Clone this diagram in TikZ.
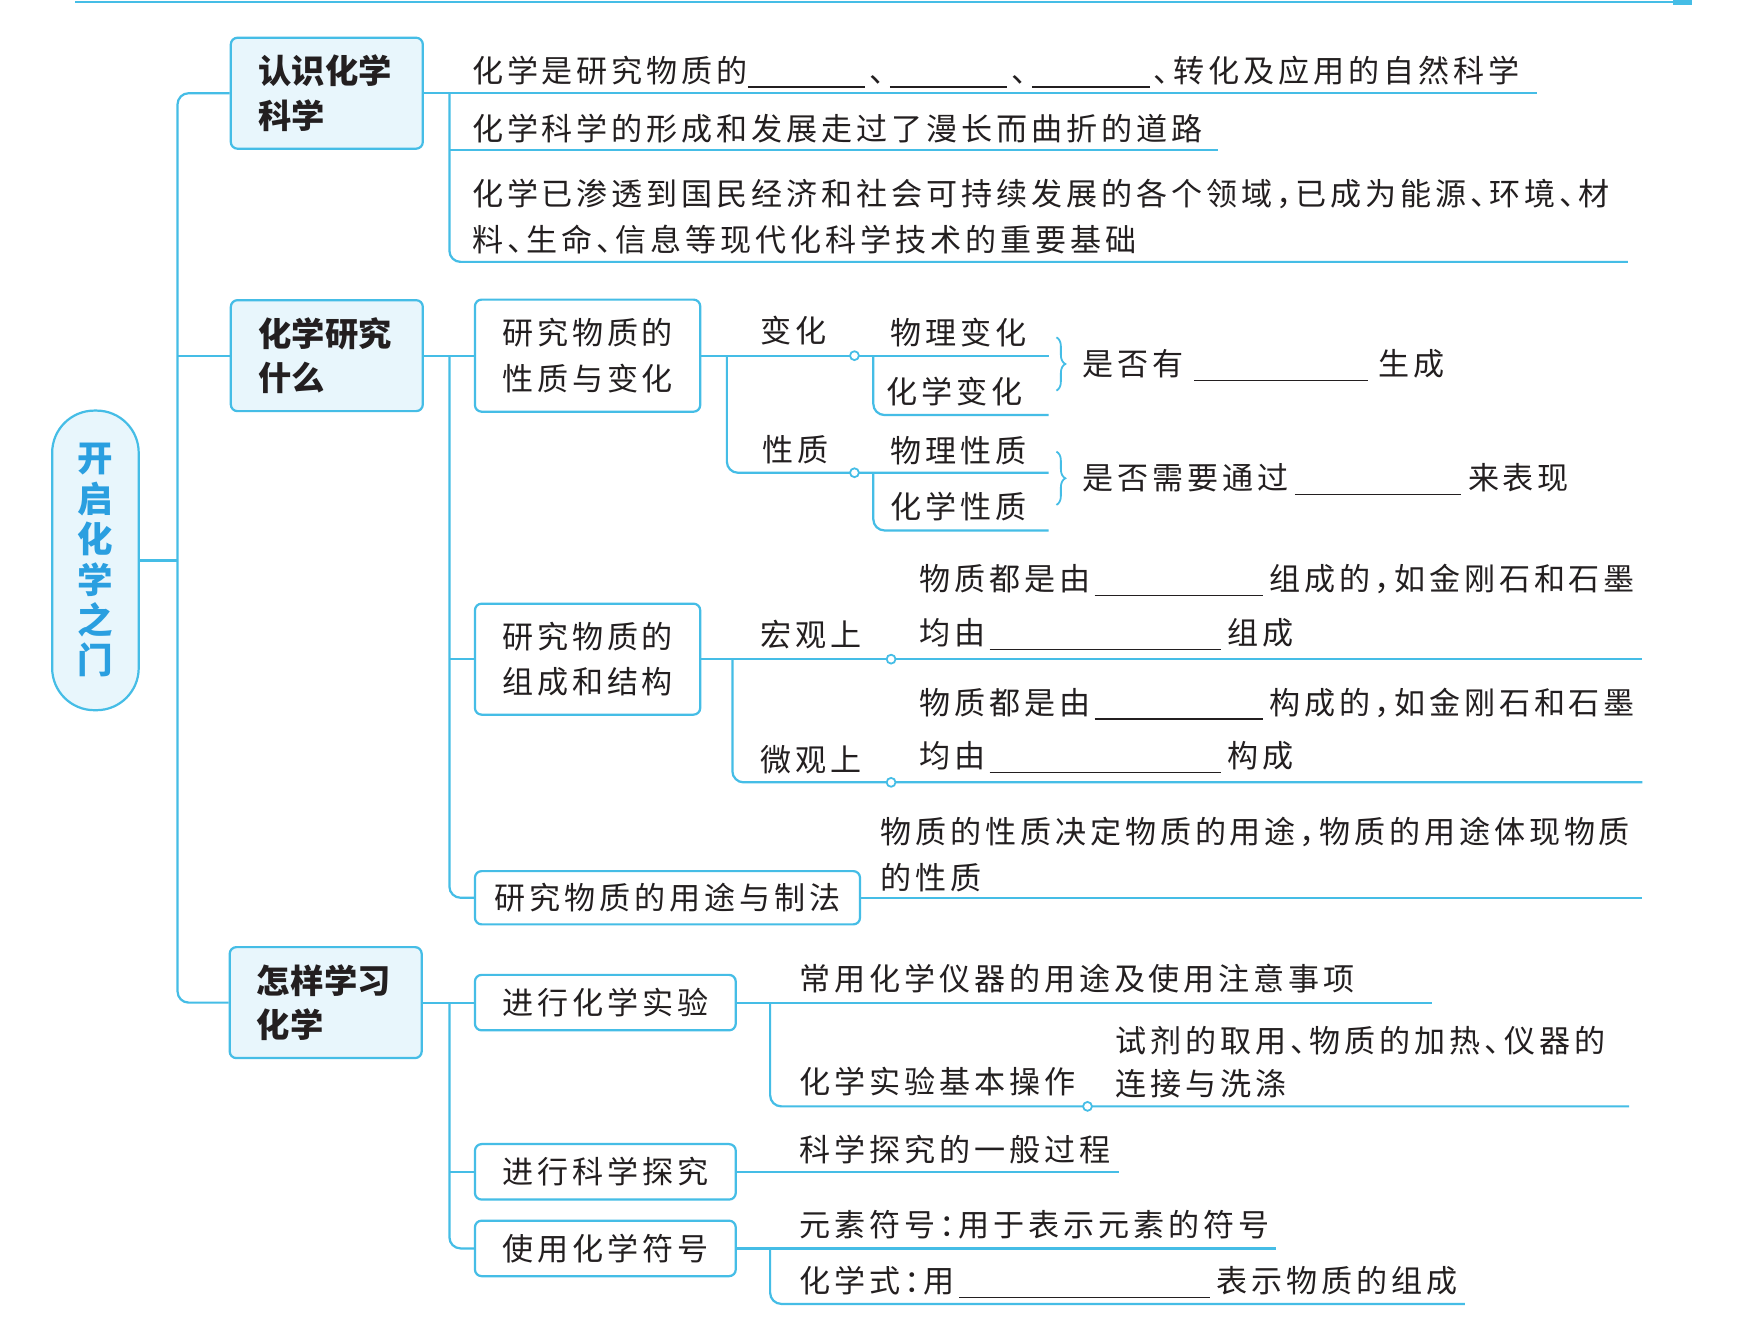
\documentclass[tikz,border=0pt]{standalone}
\usepackage{fontspec}
\setmainfont{Noto Sans CJK SC}[LetterSpace=12.5,RawFeature=+halt]
\newfontfamily\hdfont{Noto Sans CJK SC}[LetterSpace=1,RawFeature=+halt]
\usetikzlibrary{decorations.pathreplacing}
\definecolor{lb}{HTML}{45BDE6}
\definecolor{lf}{HTML}{E8F6FC}
\definecolor{rootblue}{HTML}{2A9FE0}
\definecolor{ink}{HTML}{231F20}
\newcommand\bdfont{\fontsize{14}{20.5}\selectfont}
\newcommand\blk[1]{\rule[-2.5pt]{#1}{0.55pt}}
\newcommand\dun{\hspace{2pt}、\hspace{2pt}}
\tikzset{
  conn/.style={draw=lb,line width=1pt},
  elbow/.style={draw=lb,line width=1pt,rounded corners=5pt},
  lvA/.style={draw=lb,fill=lf,rounded corners=3pt,line width=1pt,minimum width=86.5pt,minimum height=50pt,inner sep=0pt,font=\hdfont\bfseries\fontsize{15}{20}\selectfont,align=left,text width=62pt,text=ink},
  lvB/.style={draw=lb,fill=white,rounded corners=3pt,line width=1pt,inner sep=0pt,font=\bdfont,align=center,text=ink},
  rootbox/.style={draw=lb,fill=lf,rounded corners=19pt,line width=1pt,minimum width=39pt,minimum height=135pt,inner sep=0pt,font=\hdfont\bfseries\fontsize{16}{18.2}\selectfont,text=rootblue,align=center},
  txt/.style={anchor=base west,inner sep=0pt,font=\bdfont,text=ink},
  lbl/.style={anchor=base,inner sep=0pt,font=\bdfont,text=ink},
  dot/.style={circle,draw=lb,fill=white,line width=0.8pt,minimum size=4pt,inner sep=0pt},
  brc/.style={draw=lb,line width=0.8pt,decorate,decoration={brace,amplitude=4pt}}
}
\begin{document}
\begin{tikzpicture}[x=0.5pt,y=-0.5pt]
\useasboundingbox (0,0) rectangle (1568,1197);
\fill[white] (0,0) rectangle (1568,1197);
% top rule
\coordinate (tl) at (68,2);
\coordinate (tr) at (1525,2);
\draw[conn] (tl) -- (tr);
\draw[draw=lb,line width=2.5pt] (1508,2) -- (tr);

% root and level-1 boxes
\node[rootbox] (root) at (86,505) {开\\启\\化\\学\\之\\门};
\node[lvA] (b1) at (294.5,84) {认识化学\\科学};
\node[lvA] (b2) at (294.5,320.5) {化学研究\\什么};
\node[lvA] (b3) at (293.5,903.5) {怎样学习\\化学};

\coordinate (sp) at (160,505);
\draw[conn] (root.east) -- (sp);
\draw[elbow] (b1.west) -- (b1.west -| sp) -- (b3.west -| sp) -- (b3.west);
\draw[conn] (b2.west -| sp) -- (b2.west);

% ---- branch 1
\coordinate (e11) at (1385,84);
\coordinate (e12) at (1098,135);
\coordinate (e13) at (1467,236);
\draw[conn] (b1.east) -- (e11);
\draw[elbow] (405,84) -- (405,236) -- (e13);
\draw[conn] (405,135) -- (e12);
\node[txt] (t11) at (425,74) {化学是研究物质的\blk{53pt}\dun\blk{53pt}\dun\blk{53pt}\dun 转化及应用的自然科学};
\node[txt] (t12) at (425,126.5) {化学科学的形成和发展走过了漫长而曲折的道路};
\node[txt] (t13) at (425,185.5) {化学已渗透到国民经济和社会可持续发展的各个领域，已成为能源、环境、材};
\node[txt] (t14) at (425,226.5) {料、生命、信息等现代化科学技术的重要基础};

% ---- branch 2
\node[lvB,minimum width=101.5pt,minimum height=50.5pt] (b21) at (529.5,320.5) {研究物质的\\性质与变化};
\node[lvB,minimum width=101.5pt,minimum height=50pt] (b22) at (529.5,594) {研究物质的\\组成和结构};
\node[lvB,minimum width=173.5pt,minimum height=24pt] (b23) at (601.5,809) {研究物质的用途与制法};
\draw[conn] (b2.east) -- (b21.west);
\draw[elbow] (405,320.5) -- (405,809) -- (b23.west);
\draw[conn] (405,594) -- (b22.west);

% properties & changes
\coordinate (e21) at (945,320.5);
\coordinate (e22) at (945,374);
\coordinate (e23) at (945,426);
\coordinate (e24) at (945,478);
\draw[conn] (b21.east) -- (e21);
\draw[elbow] (655,320.5) -- (655,426) -- (e23);
\draw[elbow] (787,320.5) -- (787,374) -- (e22);
\draw[elbow] (787,426) -- (787,478) -- (e24);
\node[dot] (d1) at (770,320.5) {};
\node[dot] (d2) at (770,426) {};
\node[lbl] (l1) at (715,308.5) {变化};
\node[lbl] (l2) at (717,415.5) {性质};
\node[lbl] (l3) at (864,310.5) {物理变化};
\node[lbl] (l4) at (860,363.5) {化学变化};
\node[lbl] (l5) at (864,416.5) {物理性质};
\node[lbl] (l6) at (864,467.5) {化学性质};
\draw[brc] (952,304) -- (952,352);
\draw[brc] (952,407) -- (952,455);
\node[txt] (t21) at (975,338.5) {是否有\hspace{5pt}\blk{78pt}\hspace{5pt}生成};
\node[txt] (t22) at (975,441.5) {是否需要通过\hspace{3pt}\blk{75pt}\hspace{3pt}来表现};

% composition & structure
\coordinate (e25) at (1480,594);
\coordinate (e26) at (1480,705);
\draw[conn] (b22.east) -- (e25);
\draw[elbow] (660,594) -- (660,705) -- (e26);
\node[dot] (d3) at (803,594) {};
\node[dot] (d4) at (803,705) {};
\node[lbl] (l7) at (731,582.5) {宏观上};
\node[lbl] (l8) at (731,695.5) {微观上};
\node[txt] (t23) at (828,532.5) {物质都是由\hspace{2pt}\blk{76pt}\hspace{3pt}组成的，如金刚石和石墨};
\node[txt] (t24) at (828,580.5) {均由\hspace{2pt}\blk{104pt}\hspace{3pt}组成};
\node[txt] (t25) at (828,643.5) {物质都是由\hspace{2pt}\blk{76pt}\hspace{3pt}构成的，如金刚石和石墨};
\node[txt] (t26) at (828,691.5) {均由\hspace{2pt}\blk{104pt}\hspace{3pt}构成};

% uses
\coordinate (e27) at (1480,809);
\draw[conn] (b23.east) -- (e27);
\node[txt] (t27) at (793,760.5) {物质的性质决定物质的用途，物质的用途体现物质};
\node[txt] (t28) at (793,801.5) {的性质};

% ---- branch 3
\node[lvB,minimum width=117.5pt,minimum height=25pt] (b31) at (545.5,903.5) {进行化学实验};
\node[lvB,minimum width=117.5pt,minimum height=25pt] (b32) at (545.5,1056) {进行科学探究};
\node[lvB,minimum width=117.5pt,minimum height=25pt] (b33) at (545.5,1125) {使用化学符号};
\draw[conn] (b3.east) -- (b31.west);
\draw[elbow] (405,903.5) -- (405,1125) -- (b33.west);
\draw[conn] (405,1056) -- (b32.west);

\coordinate (e31) at (1290,903.5);
\coordinate (e32) at (1468,997);
\draw[conn] (b31.east) -- (e31);
\draw[elbow] (694,903.5) -- (694,997) -- (e32);
\node[dot] (d5) at (980,997) {};
\node[txt] (t31) at (720,892.5) {常用化学仪器的用途及使用注意事项};
\node[txt] (t32) at (720,985.5) {化学实验基本操作};
\node[txt] (t33) at (1005,948.5) {试剂的取用、物质的加热、仪器的};
\node[txt] (t34) at (1005,987.5) {连接与洗涤};

\coordinate (e33) at (1008,1056);
\draw[conn] (b32.east) -- (e33);
\node[txt] (t35) at (720,1046.5) {科学探究的一般过程};

\coordinate (e34) at (1150,1125);
\coordinate (e35) at (1320,1175);
\draw[conn] (b33.east) -- (e34);
\draw[elbow] (694,1125) -- (694,1175) -- (e35);
\node[txt] (t36) at (720,1114.5) {元素符号：用于表示元素的符号};
\node[txt] (t37) at (720,1164.5) {化学式：用\hspace{2pt}\blk{113pt}\hspace{3pt}表示物质的组成};
\end{tikzpicture}
\end{document}
